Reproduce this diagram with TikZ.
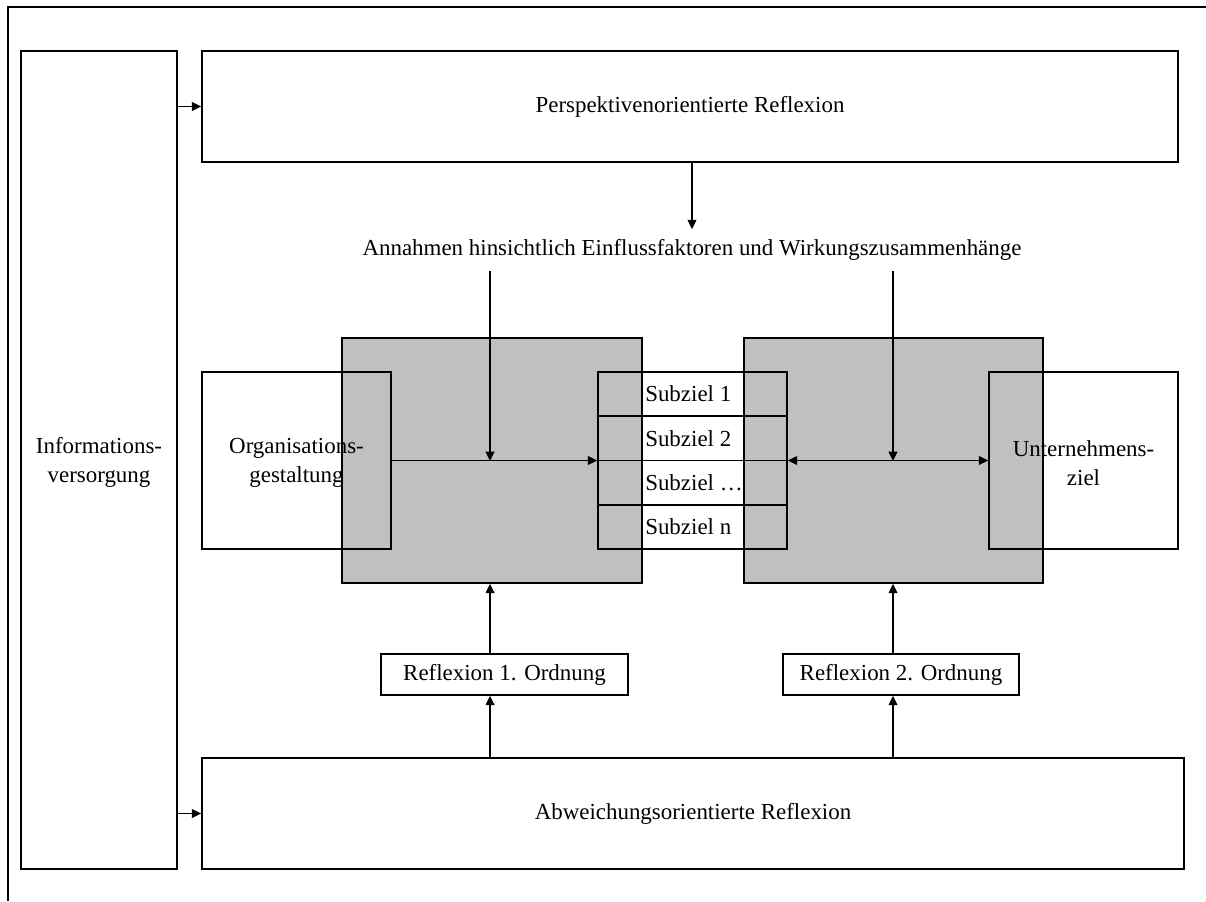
\documentclass[tikz,border=0pt]{standalone}
\usepackage{fontspec}
\setmainfont{Liberation Serif}
\usetikzlibrary{arrows.meta}
\definecolor{boxgray}{HTML}{C0C0C0}
\begin{document}
\begin{tikzpicture}[x=0.75pt,y=-0.75pt,
  font=\fontsize{17.2}{21.75}\selectfont,
  box/.style={draw=black, line width=1.15pt, inner sep=0pt, align=center},
  graybox/.style={draw=black, fill=boxgray, line width=1.15pt, inner sep=0pt},
  lbl/.style={anchor=west, inner sep=0pt},
  arr/.style={line width=1.15pt, -{Triangle[length=7pt,width=6.5pt]}},
  darr/.style={line width=1.15pt, {Triangle[length=7pt,width=6.5pt]}-{Triangle[length=7pt,width=6.5pt]}}]
\useasboundingbox (0,0) rectangle (1206,901);
\draw[line width=1.6pt] (8,901) -- (8,7) -- (1206,7);

\node[box, minimum width=117pt, minimum height=613.5pt] (info) at (99,460) {\strut Informations-\\versorgung};
\node[box, minimum width=732pt, minimum height=83.25pt] (persp) at (690,106.5) {Perspektivenorientierte Reflexion};
\node[box, minimum width=736.5pt, minimum height=83.25pt] (abw) at (693,813.5) {Abweichungsorientierte Reflexion};
\node[inner xsep=0pt, inner ysep=7.5pt] (ann) at (692,250) {Annahmen hinsichtlich Einflussfaktoren und Wirkungszusammenhänge};

\node[graybox, minimum width=225pt, minimum height=183.75pt] (gl) at (492,460.5) {};
\node[graybox, minimum width=224.25pt, minimum height=183.75pt] (gr) at (893.5,460.5) {};

\node[box, minimum width=141.75pt, minimum height=132.75pt] (org) at (296.5,460.5) {\strut Organisations-\\gestaltung};
\node[box, minimum width=141.75pt, minimum height=132.75pt] (unt) at (1083.5,460.5) {\strut Unternehmens-\\ziel};

\node[box, minimum width=141.75pt, minimum height=33.2pt] (s1) at (692.5,394.1) {};
\node[box, minimum width=141.75pt, minimum height=33.2pt] (s2) at (692.5,438.4) {};
\node[box, minimum width=141.75pt, minimum height=33.2pt] (s3) at (692.5,482.7) {};
\node[box, minimum width=141.75pt, minimum height=33.2pt] (s4) at (692.5,527.0) {};
\node[lbl] (s1t) at (645,394.1) {Subziel 1};
\node[lbl] (s2t) at (645,438.4) {Subziel 2};
\node[lbl] (s3t) at (645,482.7) {Subziel …};
\node[lbl] (s4t) at (645,527.0) {Subziel n};

\node[box, minimum width=185.25pt, minimum height=30.75pt] (r1) at (504.5,674.5) {Reflexion 1. Ordnung};
\node[box, minimum width=177pt, minimum height=30.75pt] (r2) at (901,674.5) {Reflexion 2. Ordnung};

\coordinate (j1) at (490,461);
\coordinate (j2) at (893,461);

\draw[arr] (info.east |- persp.west) -- (persp.west);
\draw[arr] (info.east |- abw.west) -- (abw.west);
\draw[arr] (ann.north |- persp.south) -- (ann.north);
\draw[arr] (j1 |- ann.south) -- (j1);
\draw[arr] (j2 |- ann.south) -- (j2);
\draw[arr] (org.east) -- (org.east -| s1.west);
\draw[darr] (s1.east |- unt.west) -- (unt.west);
\draw[arr] (j1 |- abw.north) -- (j1 |- r1.south);
\draw[arr] (j1 |- r1.north) -- (j1 |- gl.south);
\draw[arr] (j2 |- abw.north) -- (j2 |- r2.south);
\draw[arr] (j2 |- r2.north) -- (j2 |- gr.south);
\end{tikzpicture}
\end{document}
